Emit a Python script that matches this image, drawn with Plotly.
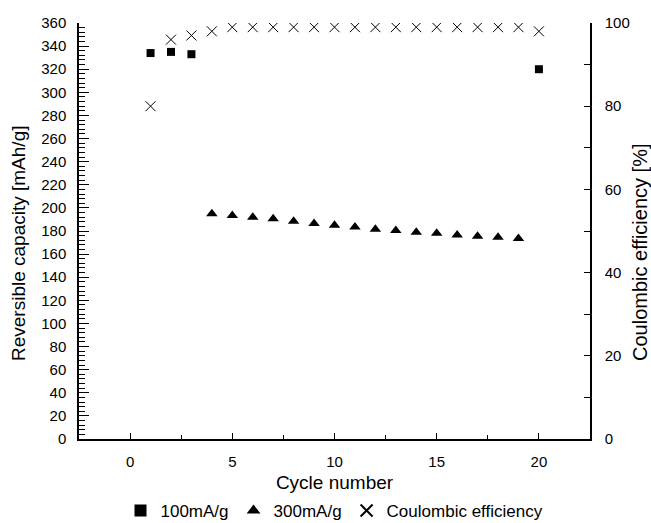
import plotly.graph_objects as go

cycles_100 = [1, 2, 3, 20]
cap_100 = [334, 335, 333, 320]

cycles_300 = [4, 5, 6, 7, 8, 9, 10, 11, 12, 13, 14, 15, 16, 17, 18, 19]
cap_300 = [195, 193.5, 192, 190.5, 188.5, 186.5, 185, 183.5, 181.5, 180.5, 179, 178, 176.5, 175.5, 174.5, 173.5]

cycles_ce = list(range(1, 21))
ce = [80, 96, 97, 98, 99, 99, 99, 99, 99, 99, 99, 99, 99, 99, 99, 99, 99, 99, 99, 98]

FONT = "Liberation Sans, Arial, sans-serif"

fig = go.Figure()
fig.add_trace(go.Scatter(
    x=cycles_100, y=cap_100, mode="markers", name="100mA/g",
    marker=dict(symbol="square", size=8, color="black")))
fig.add_trace(go.Scatter(
    x=cycles_300, y=cap_300, mode="markers", name="300mA/g",
    marker=dict(symbol="triangle-up", size=10, color="black")))
fig.add_trace(go.Scatter(
    x=cycles_ce, y=ce, mode="markers", name="Coulombic efficiency", yaxis="y2",
    marker=dict(symbol="x-thin-open", size=10, color="black",
                line=dict(width=1, color="black"))))

fig.update_layout(
    template="none",
    width=651, height=523,
    margin=dict(l=79, r=61, t=23, b=84, autoexpand=False),
    paper_bgcolor="white", plot_bgcolor="white",
    font=dict(family=FONT, size=15, color="black"),
    showlegend=True,
    legend=dict(orientation="h", x=0.5, xanchor="center", xref="paper",
                y=1 - 511 / 523, yanchor="middle", yref="container",
                font=dict(size=17), itemsizing="constant", traceorder="normal",
                tracegroupgap=0, itemwidth=30, bgcolor="rgba(0,0,0,0)"),
    xaxis=dict(
        range=[-2.5, 22.5], tickmode="linear", tick0=0, dtick=5, automargin=False,
        ticks="inside", ticklen=6, tickwidth=1, tickcolor="black",
        showline=True, linecolor="black", linewidth=1.5,
        showgrid=False, zeroline=False,
        minor=dict(dtick=2.5, tick0=0, ticks="inside", ticklen=4, tickcolor="black", showgrid=False),
        title=dict(text="Cycle number", font=dict(size=19), standoff=7),
        tickfont=dict(size=15), ticklabelstandoff=8,
    ),
    yaxis=dict(
        range=[0, 360], tickmode="linear", tick0=0, dtick=20, automargin=False,
        ticks="inside", ticklen=10, tickwidth=1, tickcolor="black",
        showline=True, linecolor="black", linewidth=1.5,
        showgrid=False, zeroline=False,
        minor=dict(dtick=4, tick0=0, ticks="inside", ticklen=6, tickcolor="black", showgrid=False),
        tickfont=dict(size=15), ticklabelstandoff=8,
    ),
    yaxis2=dict(
        range=[0, 100], tickmode="linear", tick0=0, dtick=20, automargin=False,
        overlaying="y", side="right", anchor="x",
        ticks="inside", ticklen=6, tickwidth=1, tickcolor="black",
        showline=True, linecolor="black", linewidth=1.5,
        showgrid=False, zeroline=False,
        minor=dict(dtick=10, tick0=0, ticks="inside", ticklen=6, tickcolor="black", showgrid=False),
        tickfont=dict(size=15), ticklabelstandoff=10,
    ),
    annotations=[
        dict(text="Reversible capacity [mAh/g]", textangle=-90, showarrow=False,
             xref="paper", yref="paper", x=(18 - 79) / 511, y=(439 - 363) / 416,
             xanchor="center", yanchor="bottom", font=dict(size=19)),
        dict(text="Coulombic efficiency [%]", textangle=-90, showarrow=False,
             xref="paper", yref="paper", x=(640 - 79) / 511, y=(439 - 363) / 416,
             xanchor="center", yanchor="bottom", font=dict(size=20)),
    ],
)

fig.write_html("out.html", config={"displayModeBar": False},
               post_script="document.body.style.margin='0';document.body.style.overflow='hidden';")
